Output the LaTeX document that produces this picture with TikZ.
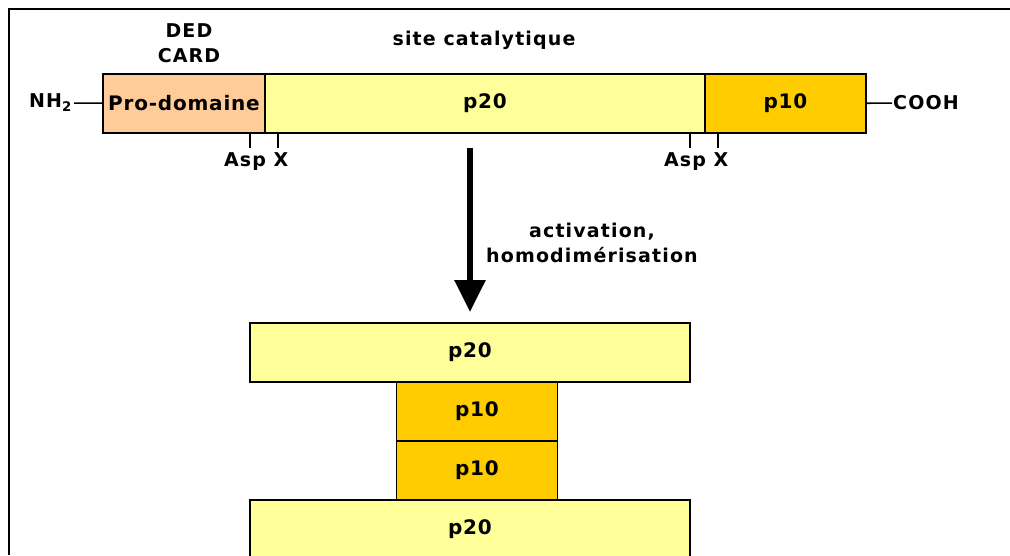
\documentclass[tikz,border=0pt]{standalone}
\usepackage{fontspec}
\setmainfont{DejaVu Sans}
\newfontfamily\domfont[LetterSpace=4]{DejaVu Sans}
\newfontfamily\lblfont[LetterSpace=6]{DejaVu Sans}
\usetikzlibrary{arrows.meta,positioning}
\definecolor{prodom}{HTML}{FFCC99}
\definecolor{pvingt}{HTML}{FFFF99}
\definecolor{pdix}{HTML}{FFCC00}

\begin{document}
\begin{tikzpicture}[x=1pt, y=-1pt, >=Latex,
  font=\domfont\bfseries\fontsize{20}{24}\selectfont,
  dom/.style={draw, line width=1.6pt, minimum height=59pt, inner sep=0pt, outer sep=0pt, anchor=north west},
  pro/.style={dom, fill=prodom, minimum width=162pt},
  big/.style={dom, fill=pvingt, minimum width=440pt},
  small/.style={dom, fill=pdix, minimum width=161pt},
  lbl/.style={font=\lblfont\bfseries\fontsize{19}{24.5}\selectfont, align=center}]
\useasboundingbox (0,0) rectangle (1010,555);
% frame
\draw[line width=2pt] (9,555) -- (9,9) -- (1010,9);
% procaspase
\node[pro] (pro) at (103,74) {Pro-domaine};
\node[big, right=0pt of pro] (pv) {p20};
\node[small, right=0pt of pv] (pd) {p10};
\node[lbl, anchor=east, inner sep=2pt] (nh) at (74,103) {NH\textsubscript{2}};
\node[lbl, anchor=west, inner sep=1pt] (cooh) at (892,103) {COOH};
\draw[line width=1.6pt] (nh) -- (pro);
\draw[line width=1.6pt] (pd) -- (cooh);
\node[lbl] (dc) at (189,43) {DED\\CARD};
\node[lbl] (site) at (484,40) {site catalytique};
% cleavage sites
\foreach \n in {pv,pd}{
  \draw[line width=1.6pt] ([xshift=-15pt]\n.south west) -- ++(0,15);
  \draw[line width=1.6pt] ([xshift=13pt]\n.south west) -- ++(0,15);
  \node[lbl, anchor=north] (asp\n) at ([xshift=-20pt,yshift=-16pt]\n.south west) {Asp};
  \node[lbl, anchor=north] (x\n) at ([xshift=16pt,yshift=-16pt]\n.south west) {X};
}
% active caspase
\node[big] (d1) at (250,323) {p20};
\node[small, below=0pt of d1, xshift=7pt] (e1) {p10};
\node[small, below=0pt of e1] (e2) {p10};
\node[big, below=0pt of e2, xshift=-7pt] (d2) {p20};
% activation
\draw[-{Triangle[width=30pt,length=32pt]}, line width=6pt] (d1.north |- pv.south) ++(0,15) -- ([yshift=11pt]d1.north);
\node[lbl] (act) at (592,243) {activation,\\homodimérisation};
\end{tikzpicture}
\end{document}
